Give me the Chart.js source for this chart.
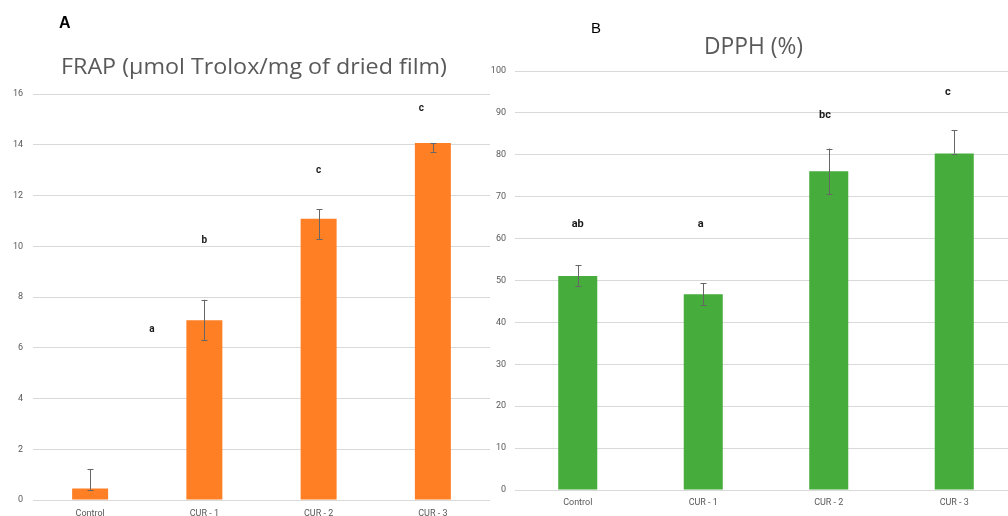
<!DOCTYPE html>
<html>
<head>
<meta charset="utf-8">
<script src="https://cdn.jsdelivr.net/npm/chart.js@4/dist/chart.umd.min.js"></script>
<style>
  html, body { margin: 0; padding: 0; background: #fff; }
  body { width: 1008px; height: 516px; overflow: hidden; position: relative; }
  canvas { position: absolute; top: 0; }
  .txt { position: absolute; white-space: nowrap; line-height: 1; transform-origin: 0 0; }
  #panelA { left: 59px; top: 14px; font: bold 16px "Liberation Sans", Arial, sans-serif; color: #000; }
  #panelB { left: 591px; top: 18.5px; font: 15px "Liberation Sans", Arial, sans-serif; color: #000; }
  #titleA { left: 61px; top: 50px; font: 22px "Open Sans", sans-serif; color: #595959; }
  #titleB { left: 704px; top: 27.5px; font: 24px "Open Sans", sans-serif; color: #595959; }
</style>
</head>
<body>
<canvas id="chartA" width="490" height="516" style="left:0px"></canvas>
<canvas id="chartB" width="527" height="516" style="left:490px"></canvas>
<div class="txt" id="panelA">A</div>
<div class="txt" id="panelB">B</div>
<div class="txt" id="titleA" data-w="386">FRAP (µmol Trolox/mg of dried film)</div>
<div class="txt" id="titleB" data-w="99">DPPH (%)</div>
<script>
// ---- data ----
const categories = ['Control', 'CUR - 1', 'CUR - 2', 'CUR - 3'];

const frapValues  = [0.45, 7.08, 11.08, 14.07];
const frapErrLow  = [0.41, 6.31, 10.29, 13.73];
const frapErrHigh = [1.21, 7.89, 11.45, 14.07];
const frapLetters = ['a', 'b', 'c', 'c'];
const frapLetterPos = [0.54, 1.0, 2.0, 2.9];
const frapLetterVal = [6.72, 10.23, 13.0, 15.43];
const frapTicks = [0, 2, 4, 6, 8, 10, 12, 14, 16];

const dpphValues  = [51.1, 46.7, 76.1, 80.3];
const dpphErrLow  = [48.6, 44.2, 70.6, 80.3];
const dpphErrHigh = [53.7, 49.3, 81.5, 85.8];
const dpphLetters = ['ab', 'a', 'bc', 'c'];
const dpphLetterPos = [0.0, 0.98, 1.97, 2.95];
const dpphLetterVal = [63.5, 63.5, 89.5, 95.0];
const dpphTicks = [0, 10, 20, 30, 40, 50, 60, 70, 80, 90, 100];

// fit titles
document.querySelectorAll('.txt[data-w]').forEach(el => {
  const w = el.getBoundingClientRect().width;
  const target = parseFloat(el.dataset.w);
  el.style.transform = 'scaleX(' + (target / w) + ')';
});

function annotPlugin(errLow, errHigh, letters, letterPos, letterVal, letterFont) {
  return {
    id: 'annot',
    afterDatasetsDraw(chart) {
      const ctx = chart.ctx;
      const xs = chart.scales.x, ys = chart.scales.y;
      ctx.save();
      ctx.strokeStyle = '#666666';
      ctx.lineWidth = 1;
      for (let i = 0; i < errLow.length; i++) {
        const x = Math.round(xs.getPixelForValue(i)) + 0.5;
        const y1 = ys.getPixelForValue(errLow[i]);
        const y2 = ys.getPixelForValue(errHigh[i]);
        ctx.beginPath();
        ctx.moveTo(x, y1); ctx.lineTo(x, y2);
        ctx.moveTo(x - 3, Math.round(y1) + 0.5); ctx.lineTo(x + 3, Math.round(y1) + 0.5);
        ctx.moveTo(x - 3, Math.round(y2) + 0.5); ctx.lineTo(x + 3, Math.round(y2) + 0.5);
        ctx.stroke();
      }
      ctx.fillStyle = '#1a1a1a';
      ctx.font = letterFont;
      ctx.textAlign = 'center';
      ctx.textBaseline = 'middle';
      for (let i = 0; i < letters.length; i++) {
        ctx.fillText(letters[i], xs.getPixelForValue(letterPos[i]), ys.getPixelForValue(letterVal[i]));
      }
      ctx.restore();
    }
  };
}

function makeChart(id, values, color, ticks, barPct, yWidth, yPad, xHeight, xPad, topPad, plugin) {
  return new Chart(document.getElementById(id), {
    type: 'bar',
    data: {
      labels: categories,
      datasets: [{ data: values, backgroundColor: color, borderWidth: 0,
                   barPercentage: barPct, categoryPercentage: 1.0 }]
    },
    options: {
      responsive: false,
      animation: false,
      devicePixelRatio: 1,
      layout: { padding: { top: topPad, left: 0, right: 0, bottom: 0 } },
      plugins: { legend: { display: false }, tooltip: { enabled: false }, title: { display: false } },
      scales: {
        x: {
          grid: { display: false, drawTicks: false },
          border: { display: false },
          ticks: { color: '#595959', font: { family: 'Roboto', size: 9 }, padding: xPad, maxRotation: 0 },
          afterFit(s) { s.height = xHeight; }
        },
        y: {
          min: ticks[0], max: ticks[ticks.length - 1],
          afterBuildTicks(s) { s.ticks = ticks.map(v => ({ value: v })); },
          grid: { color: '#d9d9d9', lineWidth: 1, drawTicks: false },
          border: { display: false },
          ticks: { color: '#595959', font: { family: 'Roboto', size: 9 }, padding: yPad },
          afterFit(s) { s.width = yWidth; }
        }
      }
    },
    plugins: [plugin]
  });
}

makeChart('chartA', frapValues, '#FF7F24', frapTicks, 0.315, 33, 10, 16, 8, 94,
  annotPlugin(frapErrLow, frapErrHigh, frapLetters, frapLetterPos, frapLetterVal, 'bold 10px Roboto'));
makeChart('chartB', dpphValues, '#46AC3C', dpphTicks, 0.311, 25, 9, 26, 7, 71,
  annotPlugin(dpphErrLow, dpphErrHigh, dpphLetters, dpphLetterPos, dpphLetterVal, 'bold 11px Roboto'));
</script>
</body>
</html>
